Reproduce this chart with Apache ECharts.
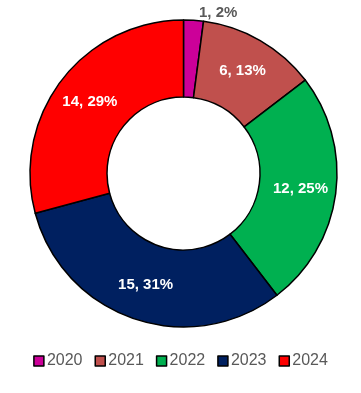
<!DOCTYPE html>
<html><head><meta charset="utf-8">
<script src="https://cdn.jsdelivr.net/npm/echarts@6/dist/echarts.min.js"></script>
<style>html,body{margin:0;padding:0;background:#fff}#c{width:361px;height:393px}</style>
</head><body><div id="c"></div>
<script>
const categories = ['2020','2021','2022','2023','2024'];
const values = [1, 6, 12, 15, 14];
const colors = ['#CC0099','#C0504D','#00B050','#002060','#FF0000'];
const total = values.reduce((a,b)=>a+b,0);
const chart = echarts.init(document.getElementById('c'));
chart.setOption({
  animation:false,
  legend:{
    bottom: 19, left:'center', icon:'rect', itemWidth:10, itemHeight:10, itemGap:12,
    itemStyle:{borderColor:'#000', borderWidth:1.5},
    textStyle:{color:'#595959', fontSize:16, fontFamily:'Liberation Sans', padding:[0,0,0,-2]},
    data: categories
  },
  series:[{
    type:'pie', center:[183.5,173.5], radius:[76.5,153.5], startAngle:90, clockwise:true,
    avoidLabelOverlap:false,
    itemStyle:{borderColor:'#000', borderWidth:1.5},
    label:{show:true, position:'inside', color:'#fff', fontWeight:'bold', fontSize:15, fontFamily:'Liberation Sans',
      formatter: p => p.value + ', ' + Math.round(p.value/total*100) + '%'},
    labelLine:{show:false},
    emphasis:{disabled:true},
    data: categories.map((c,i)=>({name:c, value:values[i], itemStyle:{color:colors[i]},
      label: i===0 ? {position:'outside', color:'#595959'} : undefined,
      labelLine: i===0 ? {show:false, length:7, length2:0} : undefined }))
  }]
});
</script></body></html>
